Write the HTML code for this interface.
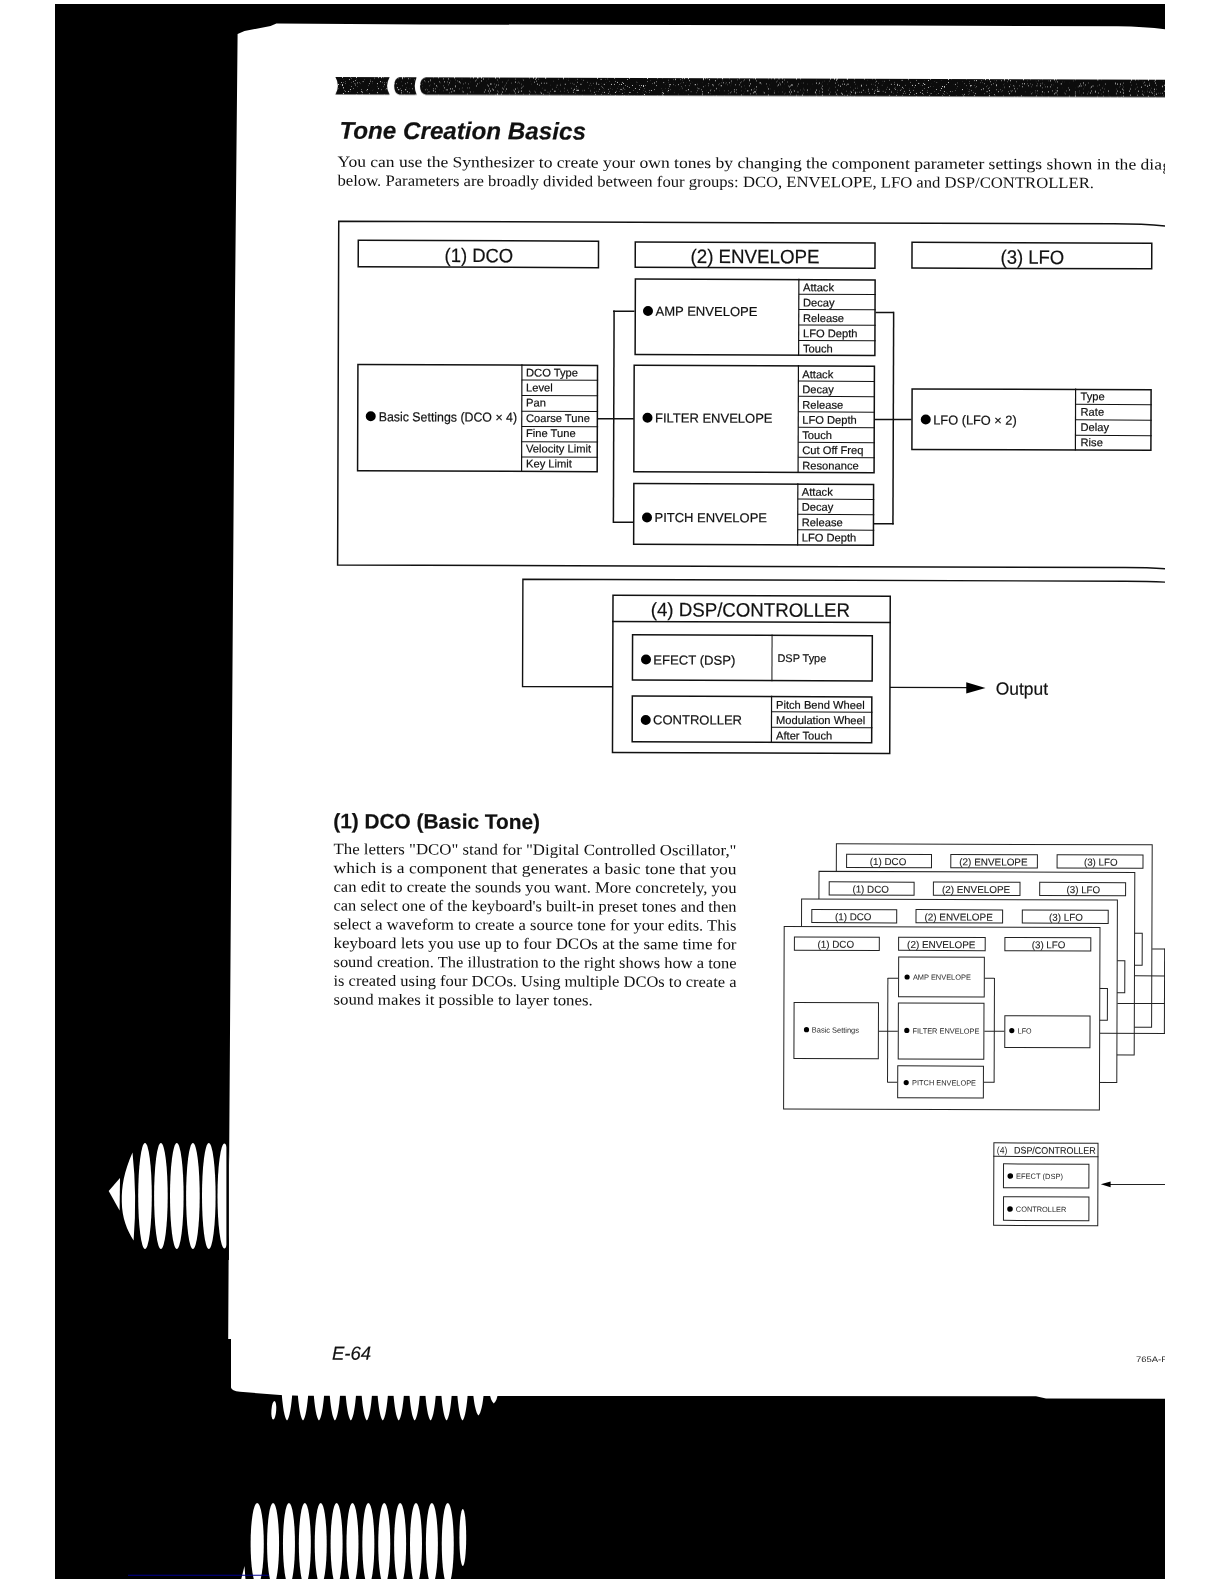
<!DOCTYPE html>
<html><head><meta charset="utf-8"><title>Tone Creation Basics</title>
<style>
html,body{margin:0;padding:0;background:#fff}
body{width:1224px;height:1584px;overflow:hidden;position:relative}
svg{position:absolute;left:0;top:0;display:block}
text{font-family:"Liberation Sans",sans-serif;fill:#111;stroke:#111;stroke-width:0.2px}
text.serif{font-family:"Liberation Serif",serif;fill:#101010;stroke:none}
text.sm{stroke:none;fill:#262626}
text.md{stroke-width:0.1px;fill:#1a1a1a}
</style></head><body>
<svg width="1224" height="1584" viewBox="0 0 1224 1584">
<defs><clipPath id="scan"><rect x="55" y="4" width="1110" height="1575"/></clipPath>
<filter id="speck" x="0" y="0" width="100%" height="100%" color-interpolation-filters="sRGB">
<feTurbulence type="fractalNoise" baseFrequency="0.85" numOctaves="2" seed="7" result="n"/>
<feColorMatrix in="n" type="matrix" values="0 0 0 0 0.8  0 0 0 0 0.8  0 0 0 0 0.8  9 0 0 0 -5.85" result="dots"/>
<feComposite in="dots" in2="SourceGraphic" operator="in" result="d2"/>
<feMerge><feMergeNode in="SourceGraphic"/><feMergeNode in="d2"/></feMerge>
</filter></defs>
<g clip-path="url(#scan)">
<rect x="55" y="4" width="1110" height="1575" fill="#000"/>
<path d="M237.6,34 L244.5,31 L270.6,26 L276.4,23.4 L420,24.4 L900,25.6 L1118,26.3 Q1145,26.6 1166,29.5 L1166,1398.8 L1046,1398.6 L1036,1396.3 L300,1395.8 L280,1395 L240,1391.8 Q231.5,1391 231,1387.5 L231,1339 L228.2,1339 L229.2,1150 L235,300 Z" fill="#fff"/>
<ellipse cx="145" cy="1196" rx="6.8" ry="53" fill="#fff"/>
<ellipse cx="160.9" cy="1196" rx="6.8" ry="53" fill="#fff"/>
<ellipse cx="176.8" cy="1196" rx="6.8" ry="53" fill="#fff"/>
<ellipse cx="192.9" cy="1196" rx="6.8" ry="53" fill="#fff"/>
<ellipse cx="208.8" cy="1196" rx="6.8" ry="53" fill="#fff"/>
<ellipse cx="224.4" cy="1196" rx="6.9" ry="52.5" fill="#fff"/>
<rect x="226.4" y="1135" width="2.5" height="125" fill="#000"/>
<path d="M132.5,1152.5 C124,1172 121.5,1186 121.8,1202 C122,1218 127,1230 133.6,1240.5 Q137.2,1196 132.5,1152.5 Z" fill="#fff"/>
<path d="M108.7,1191 L120,1178 L119.6,1210.5 Z" fill="#fff"/>
<path d="M281.70,1393.5 C282.60,1405.69 284.40,1418.10 287.00,1420.60 C289.60,1418.10 291.40,1405.69 292.30,1393.5 Z" fill="#fff"/>
<path d="M297.70,1393.5 C298.60,1405.69 300.40,1418.10 303.00,1420.60 C305.60,1418.10 307.40,1405.69 308.30,1393.5 Z" fill="#fff"/>
<path d="M313.65,1393.5 C314.55,1405.69 316.35,1418.10 318.95,1420.60 C321.55,1418.10 323.35,1405.69 324.25,1393.5 Z" fill="#fff"/>
<path d="M329.60,1393.5 C330.50,1405.69 332.30,1418.10 334.90,1420.60 C337.50,1418.10 339.30,1405.69 340.20,1393.5 Z" fill="#fff"/>
<path d="M345.55,1393.5 C346.45,1405.69 348.25,1418.10 350.85,1420.60 C353.45,1418.10 355.25,1405.69 356.15,1393.5 Z" fill="#fff"/>
<path d="M361.50,1393.5 C362.40,1405.69 364.20,1418.10 366.80,1420.60 C369.40,1418.10 371.20,1405.69 372.10,1393.5 Z" fill="#fff"/>
<path d="M377.45,1393.5 C378.35,1405.69 380.15,1418.10 382.75,1420.60 C385.35,1418.10 387.15,1405.69 388.05,1393.5 Z" fill="#fff"/>
<path d="M393.40,1393.5 C394.30,1405.69 396.10,1418.10 398.70,1420.60 C401.30,1418.10 403.10,1405.69 404.00,1393.5 Z" fill="#fff"/>
<path d="M409.35,1393.5 C410.25,1405.69 412.05,1418.10 414.65,1420.60 C417.25,1418.10 419.05,1405.69 419.95,1393.5 Z" fill="#fff"/>
<path d="M425.30,1393.5 C426.20,1405.69 428.00,1418.10 430.60,1420.60 C433.20,1418.10 435.00,1405.69 435.90,1393.5 Z" fill="#fff"/>
<path d="M441.25,1393.5 C442.15,1405.69 443.95,1418.10 446.55,1420.60 C449.15,1418.10 450.95,1405.69 451.85,1393.5 Z" fill="#fff"/>
<path d="M457.20,1393.5 C458.10,1405.69 459.90,1418.10 462.50,1420.60 C465.10,1418.10 466.90,1405.69 467.80,1393.5 Z" fill="#fff"/>
<path d="M473.15,1393.5 C474.05,1403.40 475.85,1413.00 478.45,1415.50 C481.05,1413.00 482.85,1403.40 483.75,1393.5 Z" fill="#fff"/>
<path d="M489.60,1393.5 C490.50,1398.00 491.20,1401.00 493.80,1403.50 C496.40,1401.00 497.10,1398.00 498.00,1393.5 Z" fill="#fff"/>
<ellipse cx="273.8" cy="1410.3" rx="2.4" ry="9.3" fill="#fff" transform="rotate(4 273.8 1410.3)"/>
<ellipse cx="257.20" cy="1544" rx="6.6" ry="41" fill="#fff"/>
<ellipse cx="273.08" cy="1544" rx="6.0" ry="41" fill="#fff"/>
<ellipse cx="288.96" cy="1544" rx="6.0" ry="41" fill="#fff"/>
<ellipse cx="304.84" cy="1544" rx="6.0" ry="41" fill="#fff"/>
<ellipse cx="320.72" cy="1544" rx="6.0" ry="41" fill="#fff"/>
<ellipse cx="336.60" cy="1544" rx="6.0" ry="41" fill="#fff"/>
<ellipse cx="352.48" cy="1544" rx="6.0" ry="41" fill="#fff"/>
<ellipse cx="368.36" cy="1544" rx="6.0" ry="41" fill="#fff"/>
<ellipse cx="384.24" cy="1544" rx="6.0" ry="41" fill="#fff"/>
<ellipse cx="400.12" cy="1544" rx="6.0" ry="41" fill="#fff"/>
<ellipse cx="416.00" cy="1544" rx="6.0" ry="41" fill="#fff"/>
<ellipse cx="431.88" cy="1544" rx="6.0" ry="41" fill="#fff"/>
<ellipse cx="447.76" cy="1544" rx="6.0" ry="41" fill="#fff"/>
<ellipse cx="462.8" cy="1537.5" rx="3.4" ry="28.5" fill="#fff"/>
<path d="M241,1580 L244.5,1566 L245.5,1580 Z" fill="#fff"/>
<line x1="128" y1="1575.3" x2="269" y2="1575.3" stroke="#000090" stroke-width="1.1"/>
<path d="M335.4,77 L389.7,77 Q384.5,85.7 389.7,94.4 L335.4,94.4 Q340.4,85.7 335.4,77 Z M399.5,77 L416.7,77 Q412.8,85.7 416.7,94.4 L399.5,94.4 Q394.2,93.5 394.2,85.7 Q394.2,78 399.5,77 Z M426,77 L1300,77 L1300,94.4 L426,94.4 Q420,93.5 420,85.7 Q420,78 426,77 Z" fill="#0c0c0c" filter="url(#speck)" transform="rotate(0.19 700 700) translate(-2.06,1.21)"/>
<g transform="rotate(0.19 700.0 700.0)" style="filter:grayscale(1)">
<text x="337.54" y="139.90" font-size="24.2" textLength="246.50" lengthAdjust="spacingAndGlyphs" font-weight="bold" font-style="italic" fill="#0a0a0a">Tone Creation Basics</text>
<text x="335.73" y="168.01" font-size="15.6" textLength="824.50" lengthAdjust="spacingAndGlyphs" class="serif">You can use the Synthesizer to create your own tones by changing the component parameter settings shown in the dia</text>
<text x="1160.84" y="168.87" font-size="15.6" class="serif">gram</text>
<text x="335.80" y="186.80" font-size="15.6" textLength="756.50" lengthAdjust="spacingAndGlyphs" class="serif">below. Parameters are broadly divided between four groups: DCO, ENVELOPE, LFO and DSP/CONTROLLER.</text>
<path d="M1168,225.05 Q1145,222.45 1112,222.45 L337.16,222.45 L337.16,566.20 L1125,566.20 Q1150,566.20 1168,567.40" fill="none" stroke="#111" stroke-width="1.5"/>
<rect x="356.77" y="241.49" width="240.25" height="26.50" fill="none" stroke="#111" stroke-width="1.5"/>
<text x="443.05" y="262.85" font-size="19.4" textLength="68.75" lengthAdjust="spacingAndGlyphs">(1) DCO</text>
<rect x="633.77" y="242.32" width="239.75" height="25.25" fill="none" stroke="#111" stroke-width="1.5"/>
<text x="689.05" y="263.03" font-size="19.4" textLength="129.00" lengthAdjust="spacingAndGlyphs">(2) ENVELOPE</text>
<rect x="910.52" y="241.65" width="239.75" height="25.70" fill="none" stroke="#111" stroke-width="1.5"/>
<text x="999.05" y="262.76" font-size="19.4" textLength="63.75" lengthAdjust="spacingAndGlyphs">(3) LFO</text>
<rect x="356.82" y="365.74" width="239.60" height="106.25" fill="none" stroke="#111" stroke-width="1.5"/>
<line x1="520.82" y1="364.84" x2="520.82" y2="472.59" stroke="#111" stroke-width="1.2"/>
<line x1="520.69" y1="380.47" x2="597.04" y2="380.47" stroke="#111" stroke-width="1.0"/>
<line x1="520.74" y1="395.97" x2="597.09" y2="395.97" stroke="#111" stroke-width="1.0"/>
<line x1="520.79" y1="411.72" x2="597.14" y2="411.72" stroke="#111" stroke-width="1.0"/>
<line x1="520.84" y1="426.97" x2="597.19" y2="426.97" stroke="#111" stroke-width="1.0"/>
<line x1="520.89" y1="442.22" x2="597.24" y2="442.22" stroke="#111" stroke-width="1.0"/>
<line x1="520.95" y1="457.47" x2="597.29" y2="457.47" stroke="#111" stroke-width="1.0"/>
<text x="524.98" y="376.98" font-size="11.15">DCO Type</text>
<text x="525.03" y="391.98" font-size="11.15">Level</text>
<text x="525.08" y="406.98" font-size="11.15">Pan</text>
<text x="525.13" y="422.48" font-size="11.15">Coarse Tune</text>
<text x="525.18" y="437.48" font-size="11.15">Fine Tune</text>
<text x="525.23" y="452.98" font-size="11.15">Velocity Limit</text>
<text x="525.28" y="467.98" font-size="11.15">Key Limit</text>
<circle cx="369.81" cy="417.34" r="5" fill="#000"/>
<text x="377.83" y="422.32" font-size="13" textLength="138.25" lengthAdjust="spacingAndGlyphs">Basic Settings (DCO × 4)</text>
<rect x="633.98" y="279.32" width="239.75" height="75.50" fill="none" stroke="#111" stroke-width="1.5"/>
<line x1="797.48" y1="278.42" x2="797.48" y2="355.42" stroke="#111" stroke-width="1.2"/>
<line x1="797.40" y1="293.80" x2="874.40" y2="293.80" stroke="#111" stroke-width="1.0"/>
<line x1="797.45" y1="309.05" x2="874.45" y2="309.05" stroke="#111" stroke-width="1.0"/>
<line x1="797.51" y1="324.55" x2="874.51" y2="324.55" stroke="#111" stroke-width="1.0"/>
<line x1="797.56" y1="340.05" x2="874.56" y2="340.05" stroke="#111" stroke-width="1.0"/>
<text x="801.69" y="290.81" font-size="11.15">Attack</text>
<text x="801.74" y="306.06" font-size="11.15">Decay</text>
<text x="801.80" y="321.56" font-size="11.15">Release</text>
<text x="801.85" y="336.81" font-size="11.15">LFO Depth</text>
<text x="801.90" y="352.06" font-size="11.15">Touch</text>
<circle cx="646.71" cy="311.17" r="5" fill="#000"/>
<text x="654.23" y="315.90" font-size="13" textLength="102.00" lengthAdjust="spacingAndGlyphs">AMP ENVELOPE</text>
<rect x="633.07" y="365.57" width="240.25" height="106.50" fill="none" stroke="#111" stroke-width="1.5"/>
<line x1="797.32" y1="364.68" x2="797.32" y2="472.68" stroke="#111" stroke-width="1.2"/>
<line x1="797.19" y1="380.80" x2="873.94" y2="380.80" stroke="#111" stroke-width="1.0"/>
<line x1="797.24" y1="396.05" x2="873.99" y2="396.05" stroke="#111" stroke-width="1.0"/>
<line x1="797.29" y1="411.55" x2="874.04" y2="411.55" stroke="#111" stroke-width="1.0"/>
<line x1="797.35" y1="427.05" x2="874.10" y2="427.05" stroke="#111" stroke-width="1.0"/>
<line x1="797.40" y1="442.05" x2="874.15" y2="442.05" stroke="#111" stroke-width="1.0"/>
<line x1="797.45" y1="457.05" x2="874.19" y2="457.05" stroke="#111" stroke-width="1.0"/>
<text x="801.23" y="377.81" font-size="11.15">Attack</text>
<text x="801.28" y="392.81" font-size="11.15">Decay</text>
<text x="801.33" y="408.31" font-size="11.15">Release</text>
<text x="801.38" y="423.31" font-size="11.15">LFO Depth</text>
<text x="801.43" y="438.56" font-size="11.15">Touch</text>
<text x="801.48" y="453.56" font-size="11.15">Cut Off Freq</text>
<text x="801.53" y="469.06" font-size="11.15">Resonance</text>
<circle cx="646.56" cy="417.93" r="5" fill="#000"/>
<text x="654.08" y="422.65" font-size="13" textLength="117.50" lengthAdjust="spacingAndGlyphs">FILTER ENVELOPE</text>
<rect x="633.13" y="483.82" width="239.75" height="60.75" fill="none" stroke="#111" stroke-width="1.5"/>
<line x1="797.13" y1="482.93" x2="797.13" y2="545.18" stroke="#111" stroke-width="1.2"/>
<line x1="797.08" y1="498.80" x2="873.58" y2="498.80" stroke="#111" stroke-width="1.0"/>
<line x1="797.13" y1="514.05" x2="873.63" y2="514.05" stroke="#111" stroke-width="1.0"/>
<line x1="797.19" y1="529.55" x2="873.69" y2="529.55" stroke="#111" stroke-width="1.0"/>
<text x="801.12" y="495.31" font-size="11.15">Attack</text>
<text x="801.17" y="510.31" font-size="11.15">Decay</text>
<text x="801.22" y="525.81" font-size="11.15">Release</text>
<text x="801.27" y="541.06" font-size="11.15">LFO Depth</text>
<circle cx="646.40" cy="517.68" r="5" fill="#000"/>
<text x="653.91" y="522.15" font-size="13" textLength="112.50" lengthAdjust="spacingAndGlyphs">PITCH ENVELOPE</text>
<rect x="911.07" y="388.25" width="239.00" height="60.50" fill="none" stroke="#111" stroke-width="1.5"/>
<line x1="1074.57" y1="387.36" x2="1074.57" y2="449.36" stroke="#111" stroke-width="1.2"/>
<line x1="1074.52" y1="403.13" x2="1150.77" y2="403.13" stroke="#111" stroke-width="1.0"/>
<line x1="1074.57" y1="418.63" x2="1150.82" y2="418.63" stroke="#111" stroke-width="1.0"/>
<line x1="1074.62" y1="434.13" x2="1150.87" y2="434.13" stroke="#111" stroke-width="1.0"/>
<text x="1079.55" y="398.89" font-size="11.15">Type</text>
<text x="1079.60" y="414.39" font-size="11.15">Rate</text>
<text x="1079.66" y="429.64" font-size="11.15">Delay</text>
<text x="1079.71" y="444.89" font-size="11.15">Rise</text>
<circle cx="924.82" cy="418.75" r="5" fill="#000"/>
<text x="932.34" y="423.73" font-size="13" textLength="83.50" lengthAdjust="spacingAndGlyphs">LFO (LFO × 2)</text>
<line x1="597.07" y1="419.03" x2="632.82" y2="419.03" stroke="#111" stroke-width="1.5"/>
<line x1="612.81" y1="310.89" x2="612.81" y2="523.19" stroke="#111" stroke-width="1.5"/>
<line x1="611.71" y1="311.50" x2="633.21" y2="311.50" stroke="#111" stroke-width="1.5"/>
<line x1="612.41" y1="522.56" x2="632.91" y2="522.56" stroke="#111" stroke-width="1.5"/>
<line x1="874.21" y1="311.89" x2="892.46" y2="311.89" stroke="#111" stroke-width="1.5"/>
<line x1="873.41" y1="523.14" x2="893.16" y2="523.14" stroke="#111" stroke-width="1.5"/>
<line x1="892.36" y1="311.16" x2="892.36" y2="523.76" stroke="#111" stroke-width="1.5"/>
<line x1="874.07" y1="418.86" x2="910.57" y2="418.86" stroke="#111" stroke-width="1.5"/>
<path d="M1168,580.79 Q1150,579.79 1125,579.79 L522.50,579.79 L522.50,687.09 L612.46,687.09" fill="none" stroke="#111" stroke-width="1.4"/>
<rect x="612.66" y="595.58" width="277.25" height="157.25" fill="none" stroke="#111" stroke-width="1.5"/>
<line x1="611.74" y1="621.83" x2="890.49" y2="621.83" stroke="#111" stroke-width="1.5"/>
<text x="650.47" y="616.41" font-size="19.4" textLength="199.25" lengthAdjust="spacingAndGlyphs">(4) DSP/CONTROLLER</text>
<rect x="632.36" y="635.08" width="239.75" height="45.25" fill="none" stroke="#111" stroke-width="1.5"/>
<line x1="771.86" y1="634.26" x2="771.86" y2="681.01" stroke="#111" stroke-width="1.0"/>
<circle cx="645.87" cy="659.68" r="5" fill="#000"/>
<text x="653.13" y="664.66" font-size="13" textLength="82.25" lengthAdjust="spacingAndGlyphs">EFECT (DSP)</text>
<text x="777.37" y="661.74" font-size="11.15" textLength="48.75" lengthAdjust="spacingAndGlyphs">DSP Type</text>
<rect x="632.31" y="696.33" width="239.50" height="45.75" fill="none" stroke="#111" stroke-width="1.5"/>
<line x1="771.56" y1="695.51" x2="771.56" y2="742.76" stroke="#111" stroke-width="1.2"/>
<line x1="771.54" y1="711.60" x2="872.54" y2="711.60" stroke="#111" stroke-width="1.0"/>
<line x1="771.59" y1="727.10" x2="872.59" y2="727.10" stroke="#111" stroke-width="1.0"/>
<text x="776.08" y="708.40" font-size="11.15">Pitch Bend Wheel</text>
<text x="776.13" y="723.65" font-size="11.15">Modulation Wheel</text>
<text x="776.18" y="739.15" font-size="11.15">After Touch</text>
<circle cx="645.82" cy="720.18" r="5" fill="#000"/>
<text x="653.08" y="724.41" font-size="13" textLength="89.00" lengthAdjust="spacingAndGlyphs">CONTROLLER</text>
<line x1="889.96" y1="686.74" x2="969.96" y2="686.74" stroke="#111" stroke-width="1.4"/>
<path d="M966.19,681.42 L985.46,687.05 L966.23,692.62 Z" fill="#000"/>
<text x="995.73" y="693.62" font-size="17.5" textLength="52.25" lengthAdjust="spacingAndGlyphs">Output</text>
<text x="333.63" y="829.52" font-size="20.9" textLength="206.80" lengthAdjust="spacingAndGlyphs" font-weight="bold" fill="#0a0a0a">(1) DCO (Basic Tone)</text>
<text x="334.01" y="855.31" font-size="15.6" textLength="403.00" lengthAdjust="spacingAndGlyphs" class="serif">The letters "DCO" stand for "Digital Controlled Oscillator,"</text>
<text x="334.08" y="874.11" font-size="15.6" textLength="403.00" lengthAdjust="spacingAndGlyphs" class="serif">which is a component that generates a basic tone that you</text>
<text x="334.14" y="892.91" font-size="15.6" textLength="403.00" lengthAdjust="spacingAndGlyphs" class="serif">can edit to create the sounds you want. More concretely, you</text>
<text x="334.20" y="911.71" font-size="15.6" textLength="403.00" lengthAdjust="spacingAndGlyphs" class="serif">can select one of the keyboard's built-in preset tones and then</text>
<text x="334.26" y="930.51" font-size="15.6" textLength="403.00" lengthAdjust="spacingAndGlyphs" class="serif">select a waveform to create a source tone for your edits. This</text>
<text x="334.32" y="949.31" font-size="15.6" textLength="403.00" lengthAdjust="spacingAndGlyphs" class="serif">keyboard lets you use up to four DCOs at the same time for</text>
<text x="334.39" y="968.11" font-size="15.6" textLength="403.00" lengthAdjust="spacingAndGlyphs" class="serif">sound creation. The illustration to the right shows how a tone</text>
<text x="334.45" y="986.91" font-size="15.6" textLength="403.00" lengthAdjust="spacingAndGlyphs" class="serif">is created using four DCOs. Using multiple DCOs to create a</text>
<text x="334.51" y="1005.71" font-size="15.6" textLength="259.20" lengthAdjust="spacingAndGlyphs" class="serif">sound makes it possible to layer tones.</text>
<line x1="1153.02" y1="947.58" x2="1166.82" y2="947.58" stroke="#222" stroke-width="1.0"/>
<rect x="836.88" y="843.37" width="315.80" height="182.50" fill="#fff" stroke="#222" stroke-width="1.0"/>
<rect x="847.13" y="853.82" width="84.90" height="13.20" fill="none" stroke="#222" stroke-width="1.0"/>
<text x="870.35" y="864.49" font-size="10" textLength="36.50" lengthAdjust="spacingAndGlyphs" class="md">(1) DCO</text>
<rect x="951.33" y="853.67" width="86.60" height="13.20" fill="none" stroke="#222" stroke-width="1.0"/>
<text x="959.85" y="864.49" font-size="10" textLength="68.30" lengthAdjust="spacingAndGlyphs" class="md">(2) ENVELOPE</text>
<rect x="1057.63" y="853.62" width="85.90" height="13.20" fill="none" stroke="#222" stroke-width="1.0"/>
<text x="1084.45" y="864.28" font-size="10" textLength="33.70" lengthAdjust="spacingAndGlyphs" class="md">(3) LFO</text>
<rect x="1057.82" y="931.82" width="85.20" height="31.90" fill="none" stroke="#222" stroke-width="1.0"/>
<line x1="1135.71" y1="974.40" x2="1166.91" y2="974.40" stroke="#222" stroke-width="1.0"/>
<rect x="819.57" y="870.98" width="315.80" height="182.50" fill="#fff" stroke="#222" stroke-width="1.0"/>
<rect x="829.82" y="881.43" width="84.90" height="13.20" fill="none" stroke="#222" stroke-width="1.0"/>
<text x="853.04" y="892.09" font-size="10" textLength="36.50" lengthAdjust="spacingAndGlyphs" class="md">(1) DCO</text>
<rect x="934.02" y="881.28" width="86.60" height="13.20" fill="none" stroke="#222" stroke-width="1.0"/>
<text x="942.54" y="892.10" font-size="10" textLength="68.30" lengthAdjust="spacingAndGlyphs" class="md">(2) ENVELOPE</text>
<rect x="1040.32" y="881.23" width="85.90" height="13.20" fill="none" stroke="#222" stroke-width="1.0"/>
<text x="1067.14" y="891.88" font-size="10" textLength="33.70" lengthAdjust="spacingAndGlyphs" class="md">(3) LFO</text>
<rect x="1040.52" y="959.43" width="85.20" height="31.90" fill="none" stroke="#222" stroke-width="1.0"/>
<line x1="1118.40" y1="1002.03" x2="1167.00" y2="1002.03" stroke="#222" stroke-width="1.0"/>
<rect x="802.26" y="898.59" width="315.80" height="182.50" fill="#fff" stroke="#222" stroke-width="1.0"/>
<rect x="812.52" y="909.04" width="84.90" height="13.20" fill="none" stroke="#222" stroke-width="1.0"/>
<text x="835.73" y="919.70" font-size="10" textLength="36.50" lengthAdjust="spacingAndGlyphs" class="md">(1) DCO</text>
<rect x="916.72" y="908.89" width="86.60" height="13.20" fill="none" stroke="#222" stroke-width="1.0"/>
<text x="925.23" y="919.70" font-size="10" textLength="68.30" lengthAdjust="spacingAndGlyphs" class="md">(2) ENVELOPE</text>
<rect x="1023.02" y="908.84" width="85.90" height="13.20" fill="none" stroke="#222" stroke-width="1.0"/>
<text x="1049.83" y="919.49" font-size="10" textLength="33.70" lengthAdjust="spacingAndGlyphs" class="md">(3) LFO</text>
<rect x="1023.21" y="987.04" width="85.20" height="31.90" fill="none" stroke="#222" stroke-width="1.0"/>
<line x1="1101.10" y1="1031.96" x2="1167.10" y2="1031.96" stroke="#222" stroke-width="1.0"/>
<rect x="784.95" y="926.20" width="315.80" height="182.50" fill="#fff" stroke="#222" stroke-width="1.0"/>
<rect x="795.21" y="936.64" width="84.90" height="13.20" fill="none" stroke="#222" stroke-width="1.0"/>
<text x="818.42" y="947.31" font-size="10" textLength="36.50" lengthAdjust="spacingAndGlyphs" class="md">(1) DCO</text>
<rect x="899.41" y="936.50" width="86.60" height="13.20" fill="none" stroke="#222" stroke-width="1.0"/>
<text x="907.92" y="947.31" font-size="10" textLength="68.30" lengthAdjust="spacingAndGlyphs" class="md">(2) ENVELOPE</text>
<rect x="1005.71" y="936.45" width="85.90" height="13.20" fill="none" stroke="#222" stroke-width="1.0"/>
<text x="1032.52" y="947.10" font-size="10" textLength="33.70" lengthAdjust="spacingAndGlyphs" class="md">(3) LFO</text>
<rect x="1005.90" y="1014.65" width="85.20" height="31.90" fill="none" stroke="#222" stroke-width="1.0"/>
<rect x="899.52" y="956.40" width="85.70" height="39.60" fill="none" stroke="#222" stroke-width="1.0"/>
<circle cx="908.02" cy="976.31" r="2.6" fill="#000"/>
<text x="913.83" y="978.99" font-size="7.5" textLength="58.00" lengthAdjust="spacingAndGlyphs" class="sm">AMP ENVELOPE</text>
<rect x="899.40" y="1002.30" width="85.60" height="56.10" fill="none" stroke="#222" stroke-width="1.0"/>
<circle cx="907.89" cy="1029.71" r="2.6" fill="#000"/>
<text x="913.60" y="1032.79" font-size="7.5" textLength="66.90" lengthAdjust="spacingAndGlyphs" class="sm">FILTER ENVELOPE</text>
<rect x="898.97" y="1065.20" width="85.70" height="31.90" fill="none" stroke="#222" stroke-width="1.0"/>
<circle cx="907.47" cy="1081.91" r="2.6" fill="#000"/>
<text x="913.38" y="1084.59" font-size="7.5" textLength="63.90" lengthAdjust="spacingAndGlyphs" class="sm">PITCH ENVELOPE</text>
<rect x="795.10" y="1002.25" width="84.40" height="56.00" fill="none" stroke="#222" stroke-width="1.0"/>
<circle cx="807.59" cy="1029.35" r="2.6" fill="#000"/>
<text x="812.90" y="1032.23" font-size="7.7" textLength="47.20" lengthAdjust="spacingAndGlyphs" class="sm">Basic Settings</text>
<circle cx="1012.89" cy="1029.56" r="2.6" fill="#000"/>
<text x="1018.80" y="1032.44" font-size="7.5" textLength="13.80" lengthAdjust="spacingAndGlyphs" class="sm">LFO</text>
<line x1="888.79" y1="977.38" x2="888.79" y2="1081.88" stroke="#222" stroke-width="1.0"/>
<line x1="888.62" y1="977.66" x2="899.02" y2="977.66" stroke="#222" stroke-width="1.0"/>
<line x1="880.00" y1="1030.67" x2="898.90" y2="1030.67" stroke="#222" stroke-width="1.0"/>
<line x1="888.97" y1="1081.56" x2="898.47" y2="1081.56" stroke="#222" stroke-width="1.0"/>
<line x1="995.39" y1="977.02" x2="995.39" y2="1081.52" stroke="#222" stroke-width="1.0"/>
<line x1="985.72" y1="977.34" x2="995.22" y2="977.34" stroke="#222" stroke-width="1.0"/>
<line x1="985.50" y1="1030.32" x2="1005.40" y2="1030.32" stroke="#222" stroke-width="1.0"/>
<line x1="985.17" y1="1081.24" x2="995.57" y2="1081.24" stroke="#222" stroke-width="1.0"/>
<line x1="1165.46" y1="947.16" x2="1165.46" y2="1032.26" stroke="#222" stroke-width="1.0"/>
<rect x="995.35" y="1141.85" width="104.15" height="82.50" fill="none" stroke="#222" stroke-width="1.0"/>
<line x1="994.76" y1="1155.35" x2="1099.91" y2="1155.35" stroke="#222" stroke-width="1.0"/>
<text x="998.30" y="1152.61" font-size="9.5" textLength="10.50" lengthAdjust="spacingAndGlyphs" class="sm" fill="#555">(4)</text>
<text x="1015.50" y="1152.56" font-size="9.5" textLength="81.70" lengthAdjust="spacingAndGlyphs" class="md">DSP/CONTROLLER</text>
<rect x="1005.08" y="1162.85" width="85.40" height="23.80" fill="none" stroke="#222" stroke-width="1.0"/>
<circle cx="1011.88" cy="1174.97" r="2.8" fill="#000"/>
<text x="1017.59" y="1177.75" font-size="7.5" textLength="47.00" lengthAdjust="spacingAndGlyphs" class="sm">EFECT (DSP)</text>
<rect x="1005.19" y="1195.75" width="85.40" height="23.60" fill="none" stroke="#222" stroke-width="1.0"/>
<circle cx="1011.69" cy="1207.97" r="2.8" fill="#000"/>
<text x="1017.50" y="1210.75" font-size="7.5" textLength="50.50" lengthAdjust="spacingAndGlyphs" class="sm">CONTROLLER</text>
<line x1="1109.60" y1="1183.05" x2="1167.60" y2="1183.05" stroke="#222" stroke-width="1.0"/>
<path d="M1112.19,1180.24 L1102.40,1182.97 L1112.21,1185.84 Z" fill="#000"/>
<text x="334.19" y="1360.92" font-size="19" textLength="39.00" lengthAdjust="spacingAndGlyphs" font-style="italic" fill="#0a0a0a">E-64</text>
<text x="1138.19" y="1360.55" font-size="8" textLength="31.00" lengthAdjust="spacingAndGlyphs" class="sm">765A-F</text>
</g>
</g>
</svg>
</body></html>
